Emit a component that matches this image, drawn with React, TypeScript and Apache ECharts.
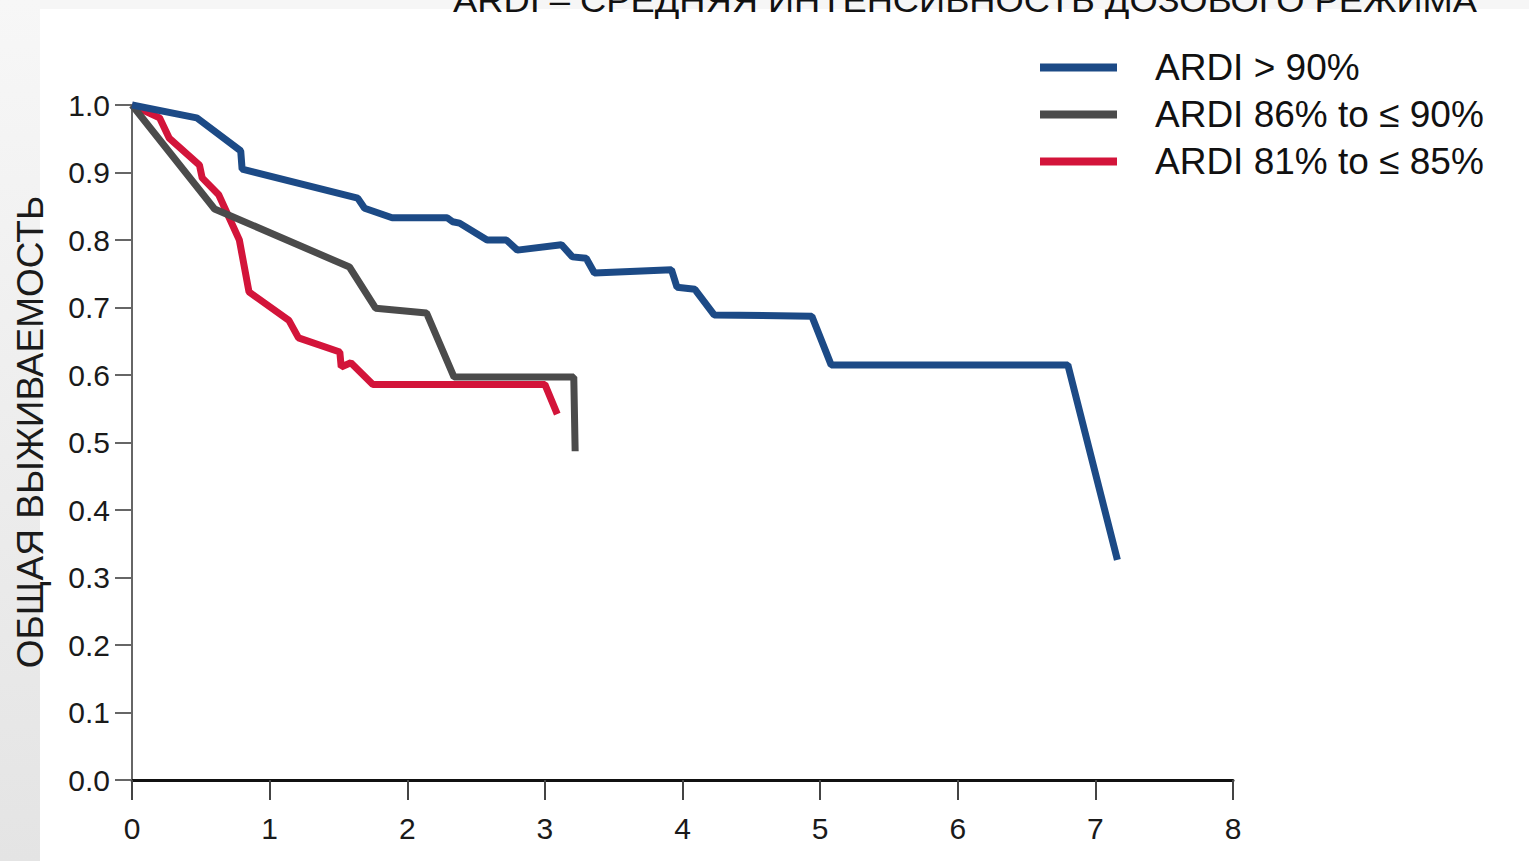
import React, { useEffect, useRef } from "react";
import * as echarts from "echarts";

const titleText = "ARDI – СРЕДНЯЯ ИНТЕНСИВНОСТЬ ДОЗОВОГО РЕЖИМА";
const yAxisTitle = "ОБЩАЯ ВЫЖИВАЕМОСТЬ";
const seriesNames = ["ARDI > 90%", "ARDI 86% to ≤ 90%", "ARDI 81% to ≤ 85%"];
const seriesColors = ["#1c4a86", "#4b4b4b", "#d3143a"];

const blueData: [number, number][] = [
  [0, 1.0], [0.47, 0.981], [0.79, 0.932], [0.8, 0.905], [1.64, 0.862], [1.69, 0.847],
  [1.89, 0.833], [2.29, 0.833], [2.33, 0.827], [2.38, 0.825], [2.58, 0.8], [2.72, 0.8],
  [2.8, 0.785], [3.12, 0.793], [3.2, 0.775], [3.3, 0.773], [3.36, 0.751], [3.92, 0.756],
  [3.96, 0.73], [4.09, 0.727], [4.23, 0.689], [4.94, 0.687], [5.08, 0.615], [6.8, 0.615],
  [7.16, 0.326],
];
const grayData: [number, number][] = [
  [0, 1.0], [0.6, 0.846], [1.58, 0.76], [1.77, 0.699], [2.14, 0.692], [2.34, 0.597],
  [3.21, 0.597], [3.22, 0.487],
];
const redData: [number, number][] = [
  [0, 1.0], [0.2, 0.981], [0.27, 0.951], [0.49, 0.911], [0.51, 0.892], [0.63, 0.867],
  [0.78, 0.8], [0.85, 0.723], [1.14, 0.681], [1.21, 0.655], [1.51, 0.634], [1.52, 0.612],
  [1.59, 0.618], [1.75, 0.586], [3.0, 0.586], [3.09, 0.542],
];

function measure(text: string, font: string): number {
  const c = document.createElement("canvas");
  const ctx = c.getContext("2d");
  if (!ctx) return 1;
  ctx.font = font;
  return ctx.measureText(text).width;
}

export default function App() {
  const ref = useRef<HTMLDivElement>(null);
  useEffect(() => {
    if (!ref.current) return;
    const chart = echarts.init(ref.current, undefined, { renderer: "svg" });
    const titleFont = '34px "Liberation Sans"';
    const tw = measure(titleText, titleFont);
    const titleScale = tw > 0 ? 1025 / tw : 1;
    const allData = [blueData, grayData, redData];
    chart.setOption({
      animation: false,
      backgroundColor: "#ffffff",
      textStyle: { fontFamily: '"Liberation Sans", Arial, sans-serif' },
      graphic: [
        {
          type: "rect",
          z: -10,
          shape: { x: 0, y: 0, width: 1529, height: 9 },
          style: { fill: "#f6f6f6" },
        },
        {
          type: "rect",
          z: -10,
          shape: { x: 0, y: 0, width: 40, height: 861 },
          style: {
            fill: new echarts.graphic.LinearGradient(0, 0, 0, 1, [
              { offset: 0, color: "#f7f7f7" },
              { offset: 1, color: "#e4e4e4" },
            ]),
          },
        },
        {
          type: "text",
          x: 453,
          y: 0,
          scaleX: titleScale,
          style: {
            text: titleText,
            font: titleFont,
            fill: "#111111",
            align: "left",
            verticalAlign: "middle",
          },
        },
        {
          type: "text",
          x: 30,
          y: 432,
          rotation: Math.PI / 2,
          style: {
            text: yAxisTitle,
            font: '37px "Liberation Sans"',
            fill: "#1a1a1a",
            align: "center",
            verticalAlign: "middle",
          },
        },
      ],
      legend: {
        orient: "vertical",
        left: 1040,
        top: 49,
        padding: 0,
        itemWidth: 77,
        itemHeight: 8,
        itemGap: 10,
        icon: "rect",
        textStyle: { fontSize: 37, lineHeight: 37, color: "#111111", padding: [0, 0, 0, 33] },
        data: seriesNames,
      },
      grid: { left: 132, right: 296, top: 105, bottom: 81 },
      xAxis: {
        type: "value",
        min: 0,
        max: 8,
        interval: 1,
        splitLine: { show: false },
        axisLine: { show: true, lineStyle: { color: "#111111", width: 3 } },
        axisTick: { show: true, length: 20, lineStyle: { color: "#444444", width: 2 } },
        axisLabel: { fontSize: 30, color: "#1a1a1a", margin: 33 },
      },
      yAxis: {
        type: "value",
        min: 0,
        max: 1,
        interval: 0.1,
        splitLine: { show: false },
        axisLine: { show: true, lineStyle: { color: "#666666", width: 2 } },
        axisTick: { show: true, length: 17, lineStyle: { color: "#666666", width: 2 } },
        axisLabel: {
          fontSize: 30,
          color: "#1a1a1a",
          margin: 22,
          formatter: (v: number) => v.toFixed(1),
        },
      },
      series: allData.map((d, i) => ({
        type: "line",
        name: seriesNames[i],
        data: d,
        symbol: "none",
        clip: false,
        z: 3 - i,
        lineStyle: { color: seriesColors[i], width: 7 },
        itemStyle: { color: seriesColors[i] },
      })),
    });
    return () => chart.dispose();
  }, []);
  return (
    <div
      ref={ref}
      style={{ position: "absolute", left: 0, top: 0, width: 1529, height: 861 }}
    />
  );
}
